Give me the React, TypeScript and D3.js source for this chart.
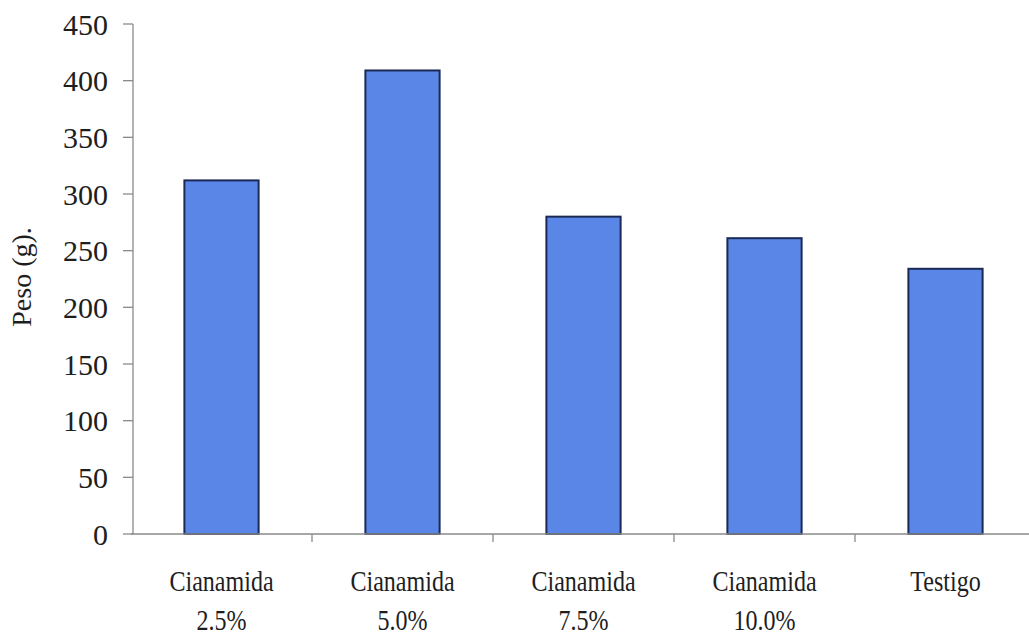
import * as d3 from "d3";

const categories = ["Cianamida 2.5%", "Cianamida 5.0%", "Cianamida 7.5%", "Cianamida 10.0%", "Testigo"];
const labelLines = [["Cianamida", "2.5%"], ["Cianamida", "5.0%"], ["Cianamida", "7.5%"], ["Cianamida", "10.0%"], ["Testigo"]];
const pesos = [312, 409, 280, 261, 234];
const yTicks = [0, 50, 100, 150, 200, 250, 300, 350, 400, 450];

const W = 1029;
const H = 638;
const font = "'Liberation Serif', 'Times New Roman', serif";

export default function App() {
  const x = d3.scaleBand<string>().domain(categories).range([131, 1036]).paddingInner(0.59).paddingOuter(0.295);
  const y = d3.scaleLinear().domain([0, 450]).range([534, 24]);
  const bw = x.bandwidth();
  const step = x.step();
  const axisColor = "#8a8a8a";

  return (
    <svg width={W} height={H} style={{ position: "absolute", left: 0, top: 0, background: "#fff" }}>
      {/* y axis */}
      <line x1={133} x2={133} y1={y(450)} y2={y(0)} stroke={axisColor} strokeWidth={1.3} />
      {yTicks.map((t) => (
        <g key={t}>
          <line x1={123} x2={133} y1={y(t)} y2={y(t)} stroke={axisColor} strokeWidth={1.3} />
          <text x={108} y={y(t)} dy="0.35em" textAnchor="end" fontFamily={font} fontSize={30} fill="#1e1e1e">
            {t}
          </text>
        </g>
      ))}
      <text
        transform={`translate(31,${277}) rotate(-90)`}
        textAnchor="middle"
        fontFamily={font}
        fontSize={28}
        fill="#1e1e1e"
      >
        Peso (g).
      </text>

      {/* bars */}
      {categories.map((c, i) => (
        <rect
          key={c}
          x={x(c)!}
          y={y(pesos[i])}
          width={bw}
          height={y(0) - y(pesos[i])}
          fill="#5a86e8"
          stroke="#1b2a55"
          strokeWidth={2}
        />
      ))}

      {/* x axis */}
      <line x1={131} x2={1036} y1={y(0)} y2={y(0)} stroke={axisColor} strokeWidth={1.3} />
      {categories.slice(0, -1).map((c) => {
        const tx = x(c)! + bw / 2 + step / 2;
        return <line key={c} x1={tx} x2={tx} y1={y(0)} y2={y(0) + 8} stroke={axisColor} strokeWidth={1.3} />;
      })}
      {categories.map((c, i) => (
        <text
          key={c}
          textAnchor="middle"
          fontFamily={font}
          fontSize={29}
          fill="#1e1e1e"
          transform={`translate(${x(c)! + bw / 2},0) scale(0.83,1)`}
        >
          {labelLines[i].map((ln, j) => (
            <tspan key={j} x={0} y={591 + j * 39}>
              {ln}
            </tspan>
          ))}
        </text>
      ))}
    </svg>
  );
}
